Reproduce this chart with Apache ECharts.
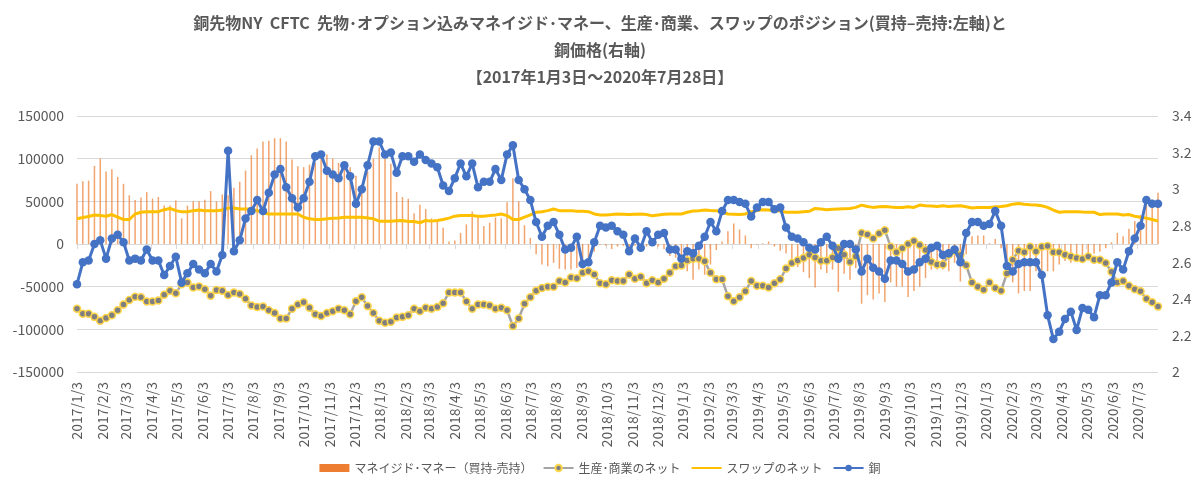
<!DOCTYPE html>
<html>
<head>
<meta charset="utf-8">
<script src="https://cdn.jsdelivr.net/npm/echarts@6/dist/echarts.min.js"></script>
<style>
html, body { margin: 0; padding: 0; background: #fff; }
#chart { width: 1200px; height: 497px; }
</style>
</head>
<body>
<div id="chart"></div>
<script>
// weekly CFTC data, every Tuesday from 2017/1/3 to 2020/7/28
var startDate = Date.UTC(2017, 0, 3);
var endDate = Date.UTC(2020, 6, 28);
var DAY = 86400000;

var managedMoney = [
  70500, 73500, 74300, 91500, 100300, 85000, 87700, 78500, 70500, 57100,
  51700, 54400, 60900, 53200, 55200, 45000, 45000, 51000, 30000, 45000,
  50000, 50000, 52000, 62000, 50000, 58000, 57000, 66000, 73000, 86000,
  104000, 112000, 120000, 121000, 124000, 124000, 120000, 99000, 91000, 90000,
  93000, 95000, 100000, 105000, 100000, 95000, 92000, 90000, 80000, 70000,
  85000, 100000, 113000, 100000, 94000, 61000, 55000, 53000, 36000, 46000,
  41000, 30000, 26000, 19000, 3000, 4000, 13000, 23000, 38000, 33000,
  21000, 25000, 31000, 30000, 49000, 77000, 50000, 22000, 7000, -12000,
  -24000, -26000, -22000, -29000, -30000, -30000, -28000, -32000, -17000, -9000,
  -1000, -2000, -6000, -3000, -2000, -4000, -2000, -5000, -3000, -2000,
  -3000, -6000, -14000, -16000, -20000, -32000, -42000, -30000, -36000, -24000,
  -7000, 3000, 15000, 24000, 17000, 10000, -5000, -1000, 1000, 3000,
  -3000, -8000, -11000, -20000, -27000, -33000, -40000, -51000, -30000, -34000,
  -30000, -56000, -35000, -42000, -28000, -70000, -60000, -65000, -58000, -68000,
  -45000, -50000, -50000, -62000, -55000, -50000, -40000, -30000, -30000, -30000,
  -32000, -22000, -44000, -12000, 9000, 10000, 10000, 1000, 6000, -5000,
  -30000, -45000, -58000, -55000, -55000, -32000, -45000, -32000, -32000, -24000,
  -20000, -22000, -16000, -13000, -12000, -11000, -9000, -5000, 2000, 13000,
  9000, 18000, 27000, 34000, 54000, 52000, 60000
];

var producerNet = [
  -75800, -81600, -81600, -85400, -90000, -86600, -83500, -77700, -70900, -65500,
  -61700, -62400, -67400, -67400, -66300, -59400, -54800, -57800, -47100, -45200,
  -50900, -49800, -52900, -60500, -54000, -54800, -59700, -56700, -58600, -64300,
  -72000, -73900, -73200, -77700, -80800, -87300, -87300, -75800, -70900, -68200,
  -74700, -82300, -84300, -80800, -78900, -75800, -77700, -82300, -67000, -62400,
  -72800, -80800, -90000, -92300, -91200, -86200, -85400, -83500, -75800, -78900,
  -74700, -75800, -73900, -69300, -56700, -56700, -56700, -67400, -75800, -70900,
  -70900, -72000, -75800, -74700, -77700, -96100, -87300, -70100, -62400, -54800,
  -51700, -50200, -50200, -43300, -45200, -39400, -40200, -33700, -31800, -35600,
  -46000, -47100, -42500, -43300, -43300, -35600, -40600, -38300, -46000, -42500,
  -45200, -40600, -33700, -26000, -25300, -19200, -17200, -17200, -20300, -33700,
  -41400, -41400, -61300, -67000, -62400, -55500, -43300, -49000, -49000, -50900,
  -46000, -41400, -28700, -22200, -19200, -16500, -12600, -15700, -19500, -19500,
  -15700, -5000, -12600, -21100, -14600, 13000, 11100, 6500, 12300, 16100,
  -3100, -9600, -5000, 0, 3400, -1100, -6900, -21100, -24100, -24100,
  -12600, -8000, -12600, -24900, -45200, -50200, -53600, -45200, -51700, -54800,
  -34500, -18400, -8000, -9600, -3100, -8800, -3100, -2300, -9600, -9600,
  -12600, -14600, -16500, -17600, -14600, -18400, -18400, -22200, -32600, -45200,
  -43300, -49000, -52900, -55500, -64300, -68200, -73200
];

var swapNet = [
  29500, 31000, 32200, 34000, 33300, 32600, 34500, 31400, 28700, 28700,
  35200, 37200, 37900, 37900, 37900, 40200, 41700, 39100, 37900, 37900,
  39100, 39800, 39100, 39100, 39100, 39800, 42100, 42100, 41000, 41000,
  41000, 39100, 36400, 35200, 35200, 35200, 35200, 35200, 35200, 31400,
  29500, 28700, 28700, 29500, 30300, 30600, 31400, 31400, 31400, 31400,
  30600, 29500, 26800, 26800, 26800, 27200, 27600, 26400, 26400, 24900,
  27600, 26800, 27600, 28700, 30300, 32600, 33300, 33300, 33300, 32600,
  32600, 33300, 34100, 35200, 33300, 28700, 28700, 31400, 34100, 37200,
  37900, 39100, 41000, 39100, 39100, 39100, 38300, 38300, 37900, 35200,
  34100, 34100, 34500, 35200, 34900, 34500, 34900, 35200, 34500, 33000,
  34100, 34900, 35200, 35200, 35200, 37200, 38700, 39100, 39800, 39400,
  39100, 37200, 35200, 34900, 34500, 35200, 37900, 39100, 40200, 39800,
  39100, 38700, 37200, 37200, 37200, 37900, 38300, 41700, 41000, 40200,
  40600, 41000, 41400, 41700, 42900, 45600, 44000, 42900, 43700, 44000,
  43300, 42900, 42900, 43700, 42900, 45600, 44800, 44400, 44000, 44800,
  44000, 44400, 44800, 43700, 42100, 42900, 42900, 42900, 43700, 44000,
  44800, 46700, 47500, 46700, 46000, 45600, 44800, 42900, 39800, 37200,
  37900, 37900, 37900, 37500, 37200, 37200, 34500, 35200, 35200, 35200,
  34100, 34500, 32600, 31400, 30300, 28700, 26800
];

var copper = [
  2.48, 2.60, 2.61, 2.70, 2.72, 2.62, 2.73, 2.75, 2.71, 2.61,
  2.62, 2.61, 2.67, 2.61, 2.61, 2.53, 2.58, 2.63, 2.49, 2.54,
  2.59, 2.56, 2.54, 2.59, 2.55, 2.64, 3.21, 2.66, 2.72, 2.84,
  2.88, 2.94, 2.88, 2.98, 3.08, 3.11, 3.01, 2.95, 2.90, 2.95,
  3.04, 3.18, 3.19, 3.10, 3.08, 3.06, 3.13, 3.07, 2.92, 3.00,
  3.13, 3.26, 3.26, 3.19, 3.20, 3.09, 3.18, 3.18, 3.15, 3.19,
  3.16, 3.14, 3.12, 3.02, 2.99, 3.06, 3.14, 3.07, 3.14, 3.01,
  3.04, 3.04, 3.11, 3.05, 3.19, 3.24, 3.05, 3.00, 2.94, 2.82,
  2.74, 2.80, 2.82, 2.75, 2.67, 2.68, 2.74, 2.59, 2.60, 2.71,
  2.80, 2.79, 2.80, 2.77, 2.75, 2.66, 2.73, 2.68, 2.77, 2.71,
  2.75, 2.76, 2.67, 2.67, 2.62, 2.66, 2.65, 2.69, 2.74, 2.82,
  2.77, 2.88, 2.94, 2.94, 2.93, 2.92, 2.85, 2.90, 2.93, 2.93,
  2.89, 2.90, 2.79, 2.74, 2.73, 2.71, 2.68, 2.67, 2.71, 2.74,
  2.69, 2.62, 2.70, 2.70, 2.67, 2.55, 2.62, 2.57, 2.55, 2.51,
  2.61, 2.61, 2.59, 2.55, 2.56, 2.60, 2.62, 2.68, 2.69, 2.64,
  2.65, 2.67, 2.60, 2.76, 2.82, 2.82, 2.80, 2.81, 2.88, 2.80,
  2.58, 2.55, 2.59, 2.60, 2.60, 2.60, 2.53, 2.31, 2.18, 2.22,
  2.29, 2.33, 2.23, 2.35, 2.34, 2.30, 2.42, 2.42, 2.49, 2.60,
  2.56, 2.66, 2.73, 2.80, 2.94, 2.92, 2.92
];

var weekDates = managedMoney.map(function (v, i) {
  return startDate + i * 7 * DAY;
});

// axis labels on the 3rd of each month
var monthTicks = [];
for (var y = 2017; y <= 2020; y++) {
  for (var m = 0; m < 12; m++) {
    var t = Date.UTC(y, m, 3);
    if (t >= startDate && t <= endDate) monthTicks.push(t);
  }
}

function withDates(values) {
  return values.map(function (v, i) {
    return [weekDates[i], v];
  });
}

var FONT = "'Noto Sans CJK JP', 'Noto Sans', sans-serif";
var GREY_TEXT = '#595959';

var chart = echarts.init(document.getElementById('chart'));

var option = {
  animation: false,
  textStyle: { fontFamily: FONT },
  title: {
    text: '銅先物NY  CFTC  先物･オプション込みマネイジド･マネー、生産･商業、スワップのポジション(買持–売持:左軸)と\n銅価格(右軸)\n【2017年1月3日～2020年7月28日】',
    left: 'center',
    top: 4,
    textStyle: {
      fontFamily: FONT,
      fontSize: 16,
      fontWeight: 'bold',
      color: GREY_TEXT,
      lineHeight: 27
    }
  },
  legend: {
    top: 457,
    left: 'center',
    itemWidth: 30,
    itemHeight: 8,
    itemGap: 10,
    textStyle: { fontFamily: FONT, fontSize: 12, color: GREY_TEXT },
    data: [
      { name: 'マネイジド･マネー（買持-売持）', icon: 'rect', itemStyle: { color: '#ED7D31', opacity: 1 } },
      { name: '生産･商業のネット' },
      { name: 'スワップのネット', itemStyle: { opacity: 0 } },
      { name: '銅' }
    ]
  },
  grid: { left: 77, right: 42, top: 116, bottom: 125 },
  xAxis: {
    type: 'value',
    min: startDate,
    max: endDate,
    splitLine: { show: false },
    axisLine: { lineStyle: { color: '#D9D9D9' } },
    axisTick: { show: true, length: 5, customValues: monthTicks, lineStyle: { color: '#D9D9D9' } },
    axisLabel: {
      customValues: monthTicks,
      rotate: 90,
      margin: 10,
      fontSize: 14,
      color: GREY_TEXT,
      fontFamily: FONT,
      formatter: function (val) {
        var d = new Date(val);
        return d.getUTCFullYear() + '/' + (d.getUTCMonth() + 1) + '/' + d.getUTCDate();
      }
    }
  },
  yAxis: [
    {
      type: 'value',
      min: -150000,
      max: 150000,
      interval: 50000,
      axisLine: { show: false },
      axisTick: { show: false },
      splitLine: { lineStyle: { color: '#D9D9D9' } },
      axisLabel: {
        fontSize: 14, color: GREY_TEXT, margin: 13, fontFamily: FONT,
        formatter: function (v) { return String(v); }
      }
    },
    {
      type: 'value',
      min: 2,
      max: 3.4,
      interval: 0.2,
      axisLine: { show: false },
      axisTick: { show: false },
      splitLine: { show: false },
      axisLabel: {
        fontSize: 14, color: GREY_TEXT, margin: 14, fontFamily: FONT,
        formatter: function (v) { return String(Math.round(v * 10) / 10); }
      }
    }
  ],
  series: [
    {
      name: 'マネイジド･マネー（買持-売持）',
      type: 'bar',
      yAxisIndex: 0,
      barWidth: 1.5,
      itemStyle: { color: '#ED7D31', opacity: 0.7 },
      data: withDates(managedMoney),
      z: 1
    },
    {
      name: '生産･商業のネット',
      type: 'line',
      yAxisIndex: 0,
      symbol: 'circle',
      symbolSize: 7,
      lineStyle: { color: '#A5A5A5', width: 2.5 },
      itemStyle: { color: '#7F7F7F', borderColor: '#FFD54A', borderWidth: 1.5 },
      data: withDates(producerNet),
      z: 3
    },
    {
      name: 'スワップのネット',
      type: 'line',
      yAxisIndex: 0,
      symbol: 'none',
      lineStyle: { color: '#FFC000', width: 3 },
      itemStyle: { color: '#FFC000' },
      data: withDates(swapNet),
      z: 2
    },
    {
      name: '銅',
      type: 'line',
      yAxisIndex: 1,
      symbol: 'circle',
      symbolSize: 8.5,
      lineStyle: { color: '#4472C4', width: 3 },
      itemStyle: { color: '#4472C4' },
      data: withDates(copper),
      z: 4
    }
  ]
};

chart.setOption(option);
</script>
</body>
</html>
